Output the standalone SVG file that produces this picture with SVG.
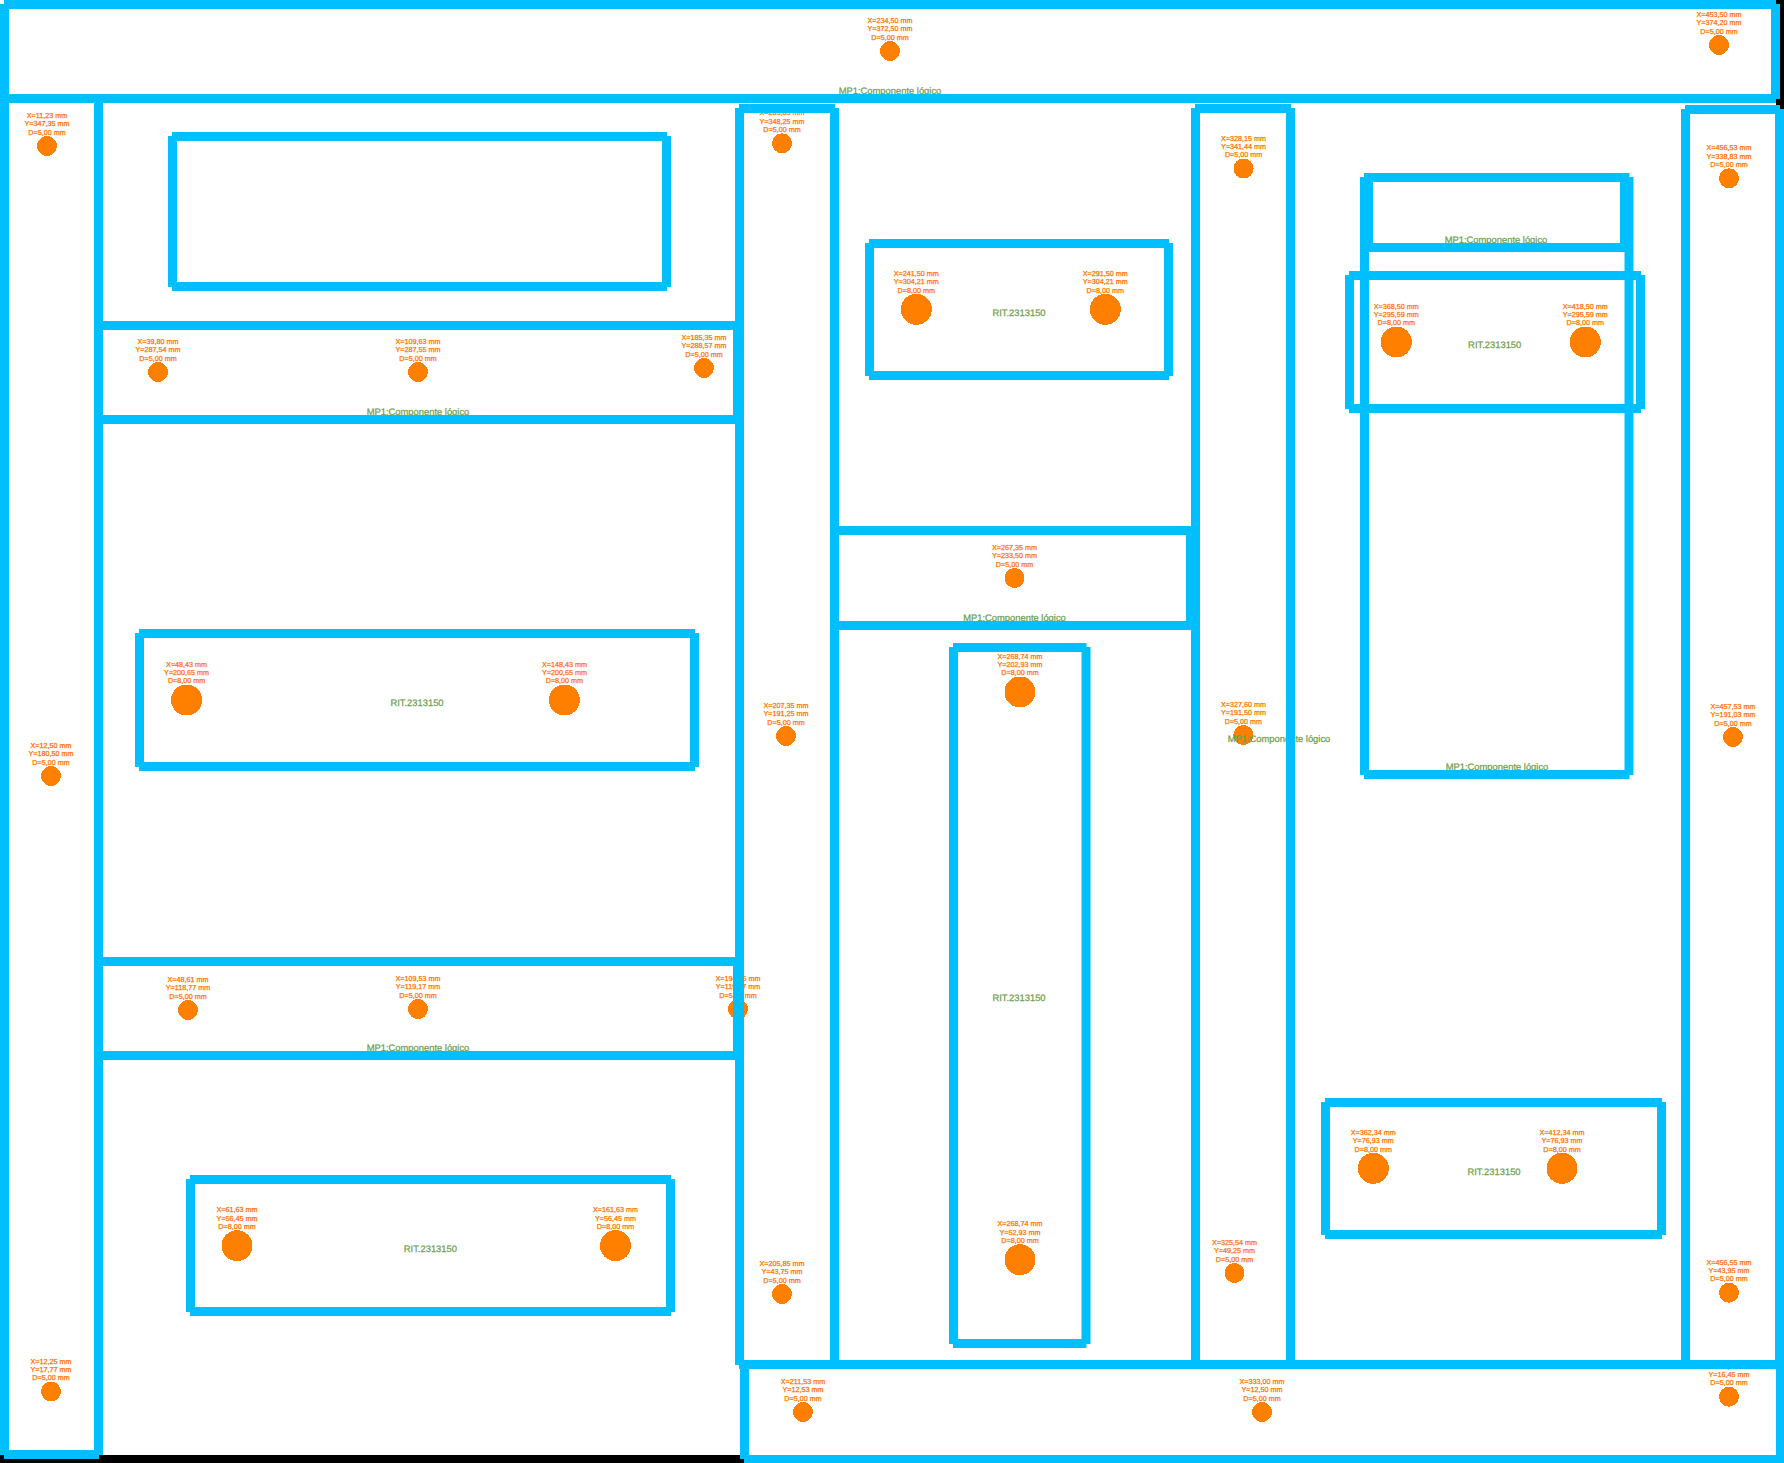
<svg xmlns="http://www.w3.org/2000/svg" width="1784" height="1463" viewBox="0 0 1784 1463">
<style>
.f{fill:#00BFFF;fill-rule:evenodd}
.h{fill:#FF8000;shape-rendering:crispEdges}
.t{font-family:"Liberation Sans",Arial,sans-serif;font-size:7.2px;fill:#FF6A00;text-anchor:middle;stroke:#FF7A00;stroke-width:.25;text-rendering:geometricPrecision}
.l{font-family:"Liberation Sans",Arial,sans-serif;font-size:9.4px;fill:#70A04F;text-anchor:middle;stroke:#70A04F;stroke-width:.25;text-rendering:geometricPrecision}
</style>
<rect width="1784" height="1463" fill="#fff"/>
<g id="edges"><rect x="1776" y="0" width="8" height="109" fill="#000"/><rect x="0" y="1455" width="744" height="8" fill="#000"/></g>
<g id="top">
<text class="t" x="890" y="23"><tspan x="890">X=234,50 mm</tspan><tspan x="890" dy="8.35">Y=372,50 mm</tspan><tspan x="890" dy="8.35">D=5,00 mm</tspan></text><circle class="h" cx="890" cy="51" r="10"/>
<text class="t" x="1719" y="17"><tspan x="1719">X=453,50 mm</tspan><tspan x="1719" dy="8.35">Y=374,20 mm</tspan><tspan x="1719" dy="8.35">D=5,00 mm</tspan></text><circle class="h" cx="1719" cy="45" r="10"/>
<text class="l" x="890" y="94">MP1:Componente lógico</text>
<path class="f" d="M4 0H1776V4H1780V99H1776V103H4V99H0V4H4ZM9 9V94H1771V9Z"/>
</g>
<g id="left">
<text class="t" x="47" y="118"><tspan x="47">X=11,23 mm</tspan><tspan x="47" dy="8.35">Y=347,35 mm</tspan><tspan x="47" dy="8.35">D=5,00 mm</tspan></text><circle class="h" cx="47" cy="146" r="10"/>
<text class="t" x="51" y="748"><tspan x="51">X=12,50 mm</tspan><tspan x="51" dy="8.35">Y=180,50 mm</tspan><tspan x="51" dy="8.35">D=5,00 mm</tspan></text><circle class="h" cx="51" cy="776" r="10"/>
<text class="t" x="51" y="1363.500"><tspan x="51">X=12,25 mm</tspan><tspan x="51" dy="8.35">Y=17,77 mm</tspan><tspan x="51" dy="8.35">D=5,00 mm</tspan></text><circle class="h" cx="51" cy="1391.500" r="10"/>
<path class="f" d="M4 94H99V98H103V1455H99V1459H4V1455H0V98H4ZM9 103V1450H94V103Z"/>
</g>
<g id="box1"><path class="f" d="M172 132H667V136H671V287H667V291H172V287H168V136H172ZM177 141V282H662V141Z"/></g>
<g id="strip1">
<text class="t" x="158" y="344"><tspan x="158">X=39,80 mm</tspan><tspan x="158" dy="8.35">Y=287,54 mm</tspan><tspan x="158" dy="8.35">D=5,00 mm</tspan></text><circle class="h" cx="158" cy="372" r="10"/>
<text class="t" x="418" y="344"><tspan x="418">X=109,63 mm</tspan><tspan x="418" dy="8.35">Y=287,55 mm</tspan><tspan x="418" dy="8.35">D=5,00 mm</tspan></text><circle class="h" cx="418" cy="372" r="10"/>
<text class="t" x="704" y="340"><tspan x="704">X=185,35 mm</tspan><tspan x="704" dy="8.35">Y=288,57 mm</tspan><tspan x="704" dy="8.35">D=5,00 mm</tspan></text><circle class="h" cx="704" cy="368" r="10"/>
<text class="l" x="418" y="415">MP1:Componente lógico</text>
<path class="f" d="M98 321H738V325H742V420H738V424H98V420H94V325H98ZM103 330V415H733V330Z"/>
</g>
<g id="ritA">
<text class="t" x="186.600" y="666.500"><tspan x="186.600">X=48,43 mm</tspan><tspan x="186.600" dy="8.35">Y=200,65 mm</tspan><tspan x="186.600" dy="8.35">D=8,00 mm</tspan></text><circle class="h" cx="186.600" cy="700" r="15.500"/>
<text class="t" x="564.400" y="666.500"><tspan x="564.400">X=148,43 mm</tspan><tspan x="564.400" dy="8.35">Y=200,65 mm</tspan><tspan x="564.400" dy="8.35">D=8,00 mm</tspan></text><circle class="h" cx="564.400" cy="700" r="15.500"/>
<text class="l" x="417" y="706.400">RIT.2313150</text>
<path class="f" d="M139 629H695V633H699V767H695V771H139V767H135V633H139ZM144 638V762H690V638Z"/>
</g>
<g id="strip2">
<text class="t" x="188" y="982"><tspan x="188">X=48,61 mm</tspan><tspan x="188" dy="8.35">Y=118,77 mm</tspan><tspan x="188" dy="8.35">D=5,00 mm</tspan></text><circle class="h" cx="188" cy="1010" r="10"/>
<text class="t" x="418" y="981"><tspan x="418">X=109,53 mm</tspan><tspan x="418" dy="8.35">Y=119,17 mm</tspan><tspan x="418" dy="8.35">D=5,00 mm</tspan></text><circle class="h" cx="418" cy="1009" r="10"/>
<text class="t" x="738" y="981"><tspan x="738">X=194,35 mm</tspan><tspan x="738" dy="8.35">Y=119,17 mm</tspan><tspan x="738" dy="8.35">D=5,00 mm</tspan></text><circle class="h" cx="738" cy="1009" r="10"/>
<text class="l" x="418" y="1051">MP1:Componente lógico</text>
<path class="f" d="M98 957H738V961H742V1056H738V1060H98V1056H94V961H98ZM103 966V1051H733V966Z"/>
</g>
<g id="ritB">
<text class="t" x="237" y="1212.200"><tspan x="237">X=61,63 mm</tspan><tspan x="237" dy="8.35">Y=56,45 mm</tspan><tspan x="237" dy="8.35">D=8,00 mm</tspan></text><circle class="h" cx="237" cy="1245.700" r="15.500"/>
<text class="t" x="615.500" y="1212.200"><tspan x="615.500">X=161,63 mm</tspan><tspan x="615.500" dy="8.35">Y=56,45 mm</tspan><tspan x="615.500" dy="8.35">D=8,00 mm</tspan></text><circle class="h" cx="615.500" cy="1245.700" r="15.500"/>
<text class="l" x="430.400" y="1252.400">RIT.2313150</text>
<path class="f" d="M190 1175H671V1179H675V1312H671V1316H190V1312H186V1179H190ZM195 1184V1307H666V1184Z"/>
</g>
<g id="colA">
<text class="t" x="782" y="115.300"><tspan x="782">X=205,85 mm</tspan><tspan x="782" dy="8.35">Y=348,25 mm</tspan><tspan x="782" dy="8.35">D=5,00 mm</tspan></text><circle class="h" cx="782" cy="143.300" r="10"/>
<text class="t" x="786" y="708"><tspan x="786">X=207,35 mm</tspan><tspan x="786" dy="8.35">Y=191,25 mm</tspan><tspan x="786" dy="8.35">D=5,00 mm</tspan></text><circle class="h" cx="786" cy="736" r="10"/>
<text class="t" x="782" y="1266"><tspan x="782">X=205,85 mm</tspan><tspan x="782" dy="8.35">Y=43,75 mm</tspan><tspan x="782" dy="8.35">D=5,00 mm</tspan></text><circle class="h" cx="782" cy="1294" r="10"/>
<path class="f" d="M739 104H835V108H839V1365H835V1369H739V1365H735V108H739ZM744 113V1360H830V113Z"/>
</g>
<g id="ritC">
<text class="t" x="916.300" y="275.800"><tspan x="916.300">X=241,50 mm</tspan><tspan x="916.300" dy="8.35">Y=304,21 mm</tspan><tspan x="916.300" dy="8.35">D=8,00 mm</tspan></text><circle class="h" cx="916.300" cy="309.300" r="15.500"/>
<text class="t" x="1105.300" y="275.800"><tspan x="1105.300">X=291,50 mm</tspan><tspan x="1105.300" dy="8.35">Y=304,21 mm</tspan><tspan x="1105.300" dy="8.35">D=8,00 mm</tspan></text><circle class="h" cx="1105.300" cy="309.300" r="15.500"/>
<text class="l" x="1019" y="316.400">RIT.2313150</text>
<path class="f" d="M869 239H1169V243H1173V376H1169V380H869V376H865V243H869ZM874 248V371H1164V248Z"/>
</g>
<g id="strip3">
<text class="t" x="1014.500" y="550"><tspan x="1014.500">X=267,35 mm</tspan><tspan x="1014.500" dy="8.35">Y=233,50 mm</tspan><tspan x="1014.500" dy="8.35">D=5,00 mm</tspan></text><circle class="h" cx="1014.500" cy="578" r="10"/>
<text class="l" x="1014.500" y="621">MP1:Componente lógico</text>
<path class="f" d="M834 526H1191V530H1195V626H1191V630H834V626H830V530H834ZM839 535V621H1186V535Z"/>
</g>
<g id="ritD2">
<text class="t" x="1020" y="658.500"><tspan x="1020">X=268,74 mm</tspan><tspan x="1020" dy="8.35">Y=202,93 mm</tspan><tspan x="1020" dy="8.35">D=8,00 mm</tspan></text><circle class="h" cx="1020" cy="692" r="15.500"/>
<text class="t" x="1020" y="1226.200"><tspan x="1020">X=268,74 mm</tspan><tspan x="1020" dy="8.35">Y=52,93 mm</tspan><tspan x="1020" dy="8.35">D=8,00 mm</tspan></text><circle class="h" cx="1020" cy="1259.700" r="15.500"/>
<text class="l" x="1019" y="1001.400">RIT.2313150</text>
<path class="f" d="M953 643H1086.500V647H1090.500V1344H1086.500V1348H953V1344H949V647H953ZM958 652V1339H1081.500V652Z"/>
</g>
<g id="colC">
<text class="t" x="1243.600" y="140.500"><tspan x="1243.600">X=328,15 mm</tspan><tspan x="1243.600" dy="8.35">Y=341,44 mm</tspan><tspan x="1243.600" dy="8.35">D=5,00 mm</tspan></text><circle class="h" cx="1243.600" cy="168.500" r="10"/>
<text class="t" x="1243.400" y="707"><tspan x="1243.400">X=327,60 mm</tspan><tspan x="1243.400" dy="8.35">Y=191,50 mm</tspan><tspan x="1243.400" dy="8.35">D=5,00 mm</tspan></text><circle class="h" cx="1243.400" cy="735" r="10"/>
<text class="t" x="1234.500" y="1245"><tspan x="1234.500">X=325,54 mm</tspan><tspan x="1234.500" dy="8.35">Y=49,25 mm</tspan><tspan x="1234.500" dy="8.35">D=5,00 mm</tspan></text><circle class="h" cx="1234.500" cy="1273" r="10"/>
<text class="l" x="1279" y="742">MP1:Componente lógico</text>
<path class="f" d="M1195 104H1291V108H1295V1365H1291V1369H1195V1365H1191V108H1195ZM1200 113V1360H1286V113Z"/>
</g>
<g id="tall">
<text class="l" x="1497" y="770.400">MP1:Componente lógico</text>
<path class="f" d="M1364 173H1629.500V177H1633.500V775H1629.500V779H1364V775H1360V177H1364ZM1369 182V770H1624.500V182Z"/>
</g>
<g id="strip4">
<text class="l" x="1496" y="243.400">MP1:Componente lógico</text>
<path class="f" d="M1368 173H1625V177H1629V248H1625V252H1368V248H1364V177H1368ZM1373 182V243H1620V182Z"/>
</g>
<g id="ritD">
<text class="t" x="1396.300" y="308.500"><tspan x="1396.300">X=368,50 mm</tspan><tspan x="1396.300" dy="8.35">Y=295,59 mm</tspan><tspan x="1396.300" dy="8.35">D=8,00 mm</tspan></text><circle class="h" cx="1396.300" cy="342" r="15.500"/>
<text class="t" x="1585.300" y="308.500"><tspan x="1585.300">X=418,50 mm</tspan><tspan x="1585.300" dy="8.35">Y=295,59 mm</tspan><tspan x="1585.300" dy="8.35">D=8,00 mm</tspan></text><circle class="h" cx="1585.300" cy="342" r="15.500"/>
<text class="l" x="1494.700" y="348.400">RIT.2313150</text>
<path class="f" d="M1349 271H1641V275H1645V409H1641V413H1349V409H1345V275H1349ZM1354 280V404H1636V280Z"/>
</g>
<g id="ritE">
<text class="t" x="1373.300" y="1134.800"><tspan x="1373.300">X=362,34 mm</tspan><tspan x="1373.300" dy="8.35">Y=76,93 mm</tspan><tspan x="1373.300" dy="8.35">D=8,00 mm</tspan></text><circle class="h" cx="1373.300" cy="1168.300" r="15.500"/>
<text class="t" x="1562" y="1134.800"><tspan x="1562">X=412,34 mm</tspan><tspan x="1562" dy="8.35">Y=76,93 mm</tspan><tspan x="1562" dy="8.35">D=8,00 mm</tspan></text><circle class="h" cx="1562" cy="1168.300" r="15.500"/>
<text class="l" x="1494" y="1175.400">RIT.2313150</text>
<path class="f" d="M1325 1098H1662V1102H1666V1235H1662V1239H1325V1235H1321V1102H1325ZM1330 1107V1230H1657V1107Z"/>
</g>
<g id="colD">
<text class="t" x="1729" y="150.300"><tspan x="1729">X=456,53 mm</tspan><tspan x="1729" dy="8.35">Y=338,83 mm</tspan><tspan x="1729" dy="8.35">D=5,00 mm</tspan></text><circle class="h" cx="1729" cy="178.300" r="10"/>
<text class="t" x="1733" y="709"><tspan x="1733">X=457,53 mm</tspan><tspan x="1733" dy="8.35">Y=191,03 mm</tspan><tspan x="1733" dy="8.35">D=5,00 mm</tspan></text><circle class="h" cx="1733" cy="737" r="10"/>
<text class="t" x="1729" y="1264.700"><tspan x="1729">X=456,55 mm</tspan><tspan x="1729" dy="8.35">Y=43,95 mm</tspan><tspan x="1729" dy="8.35">D=5,00 mm</tspan></text><circle class="h" cx="1729" cy="1292.700" r="10"/>
<path class="f" d="M1685 105H1780V109H1784V1365H1780V1369H1685V1365H1681V109H1685ZM1690 114V1360H1775V114Z"/>
</g>
<g id="bottom">
<text class="t" x="803" y="1384"><tspan x="803">X=211,53 mm</tspan><tspan x="803" dy="8.35">Y=12,53 mm</tspan><tspan x="803" dy="8.35">D=5,00 mm</tspan></text><circle class="h" cx="803" cy="1412" r="10"/>
<text class="t" x="1262" y="1384"><tspan x="1262">X=333,00 mm</tspan><tspan x="1262" dy="8.35">Y=12,50 mm</tspan><tspan x="1262" dy="8.35">D=5,00 mm</tspan></text><circle class="h" cx="1262" cy="1412" r="10"/>
<text class="t" x="1729" y="1368.700"><tspan x="1729">X=456,55 mm</tspan><tspan x="1729" dy="8.35">Y=16,45 mm</tspan><tspan x="1729" dy="8.35">D=5,00 mm</tspan></text><circle class="h" cx="1729" cy="1396.700" r="10"/>
<path class="f" d="M744 1360H1780V1364H1784V1463H744V1459H740V1364H744ZM749 1369V1455H1776V1369Z"/>
</g>
</svg>
